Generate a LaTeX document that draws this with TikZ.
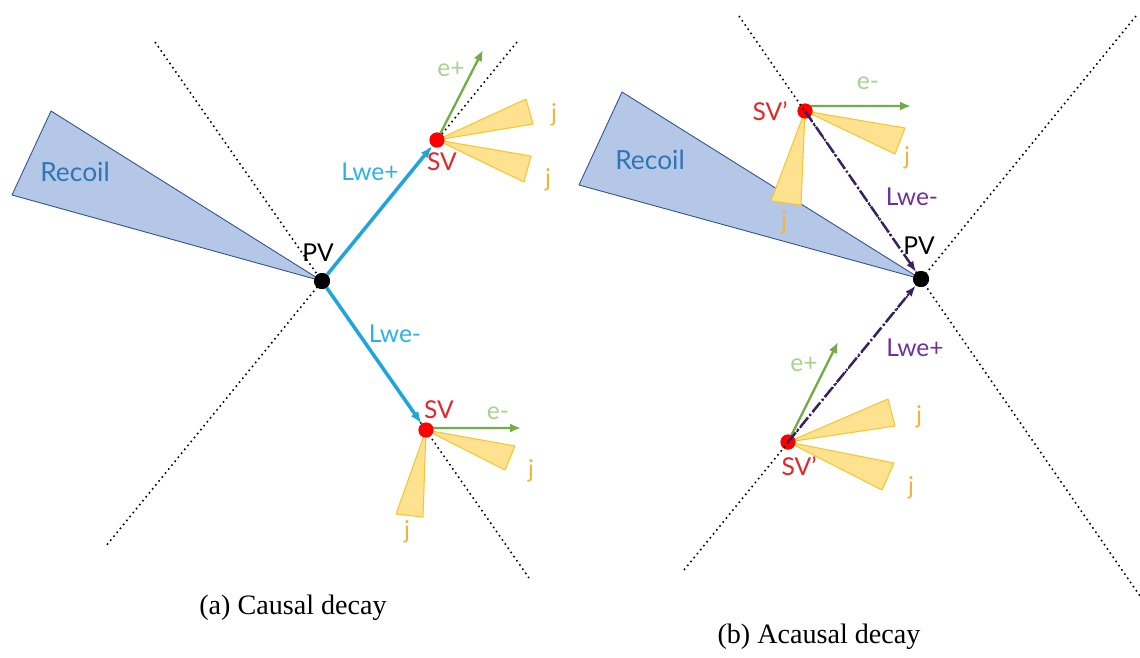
\documentclass[tikz,border=0pt]{standalone}
\usepackage{fontspec}
\setmainfont{Liberation Serif}
\setsansfont{Lato}
\usepackage{xcolor}
\usetikzlibrary{arrows.meta}
\definecolor{recoilfill}{HTML}{B4C7E7}
\definecolor{recoildraw}{HTML}{2F528F}
\definecolor{recoiltext}{HTML}{2E75B6}
\definecolor{lweblue}{HTML}{1DA5DC}
\definecolor{lwebluetext}{HTML}{2DB2E8}
\definecolor{lepgreen}{HTML}{70AD47}
\definecolor{lepgreentext}{HTML}{A9D18E}
\definecolor{jetfill}{HTML}{FFE28F}
\definecolor{jetdraw}{HTML}{F9C433}
\definecolor{jettext}{HTML}{F2B53A}
\definecolor{svred}{HTML}{FF0000}
\definecolor{svtext}{HTML}{E3262B}
\definecolor{lwepurple}{HTML}{3A1F66}
\definecolor{lwepurpletext}{HTML}{7030A0}

\begin{document}
\begin{tikzpicture}[
    x=0.02cm, y=-0.02cm,
    recoil/.style={fill=recoilfill, draw=recoildraw, line width=0.5pt, line join=round},
    jet/.style={fill=jetfill, draw=jetdraw, line width=0.6pt, line join=round},
    cone/.style={black, dotted, line width=0.9pt},
    pv/.style={circle, fill=black, inner sep=0pt, minimum size=0.32cm},
    sv/.style={circle, fill=svred, inner sep=0pt, minimum size=0.3cm},
    lwe/.style={-{Latex[length=2.4mm, width=1.8mm]}, lweblue, line width=2pt},
    lwebar/.style={-{Latex[length=2.2mm, width=1.6mm]}, lwepurple, line width=1.4pt,
        dash pattern=on 7pt off 1.5pt on 1pt off 1.5pt},
    lep/.style={-{Latex[length=2.2mm, width=1.8mm]}, lepgreen, line width=1.3pt},
    tag/.style={font=\sffamily\fontsize{14}{16}\selectfont, inner sep=1pt},
    caption/.style={font=\rmfamily\fontsize{16}{19}\selectfont}
]
\useasboundingbox (0,0) rectangle (1140,657);

% ---------------- (a) causal decay ----------------
\node[pv] (pv1) at (322,281) {};
\node[sv] (sv1) at (437,140) {};
\node[sv] (sv2) at (426,430) {};
\coordinate (cA1) at (155,42);
\coordinate (cA2) at (529,578);
\coordinate (cB1) at (517,42);
\coordinate (cB2) at (106,546);
\coordinate (rc1) at (51,111);
\coordinate (rc2) at (12,195);
\coordinate (ep1) at (483,50);
\coordinate (em1) at (521,428);

\filldraw[recoil] (pv1.center) -- (rc1) -- (rc2) -- cycle;
\draw[cone] (cA1) -- (cA2);
\draw[cone] (cB1) -- (cB2);

\filldraw[jet] (sv1.center) -- (526,99) -- (533,124) -- cycle;
\filldraw[jet] (sv1.center) -- (531,156) -- (524,182) -- cycle;
\filldraw[jet] (sv2.center) -- (515,446) -- (505,470) -- cycle;
\filldraw[jet] (sv2.center) -- (423,517) -- (396,514) -- cycle;

\draw[lep] ([yshift=0.04cm]sv2.center) -- (em1);
\draw[lep] (sv1.center) -- (ep1);
\draw[lwe] (pv1) -- (sv1);
\draw[lwe] (pv1) -- (sv2);
\node[pv] at (pv1) {};
\node[sv] at (sv1) {};
\node[sv] at (sv2) {};

\node[tag, text=recoiltext, font=\sffamily\fontsize{15}{17}\selectfont] (recoil1) at (75,172) {Recoil};
\node[tag, text=black] (pvtag1) at (318,253) {PV};
\node[tag, text=lwebluetext] (lwep1) at (370,172) {Lwe+};
\node[tag, text=lwebluetext] (lwem1) at (395,334) {Lwe-};
\node[tag, text=svtext] (svtag1) at (442,162) {SV};
\node[tag, text=svtext] (svtag2) at (439,410) {SV};
\node[tag, text=lepgreentext] (eptag1) at (451,69) {e+};
\node[tag, text=lepgreentext] (emtag1) at (498,413) {e-};
\node[tag, text=jettext] (jtag1) at (554,115) {j};
\node[tag, text=jettext] (jtag2) at (548,180) {j};
\node[tag, text=jettext] (jtag3) at (531,471) {j};
\node[tag, text=jettext] (jtag4) at (407,532) {j};

\node[caption] (capa) at (293,608) {(a) Causal decay};

% ---------------- (b) acausal decay ----------------
\node[pv] (pv2) at (921,279) {};
\node[sv] (sv3) at (805,111) {};
\node[sv] (sv4) at (788,442) {};
\coordinate (cC1) at (739,16);
\coordinate (cC2) at (1140,596);
\coordinate (cD1) at (1136,16);
\coordinate (cD2) at (684,570);
\coordinate (rc3) at (622,92);
\coordinate (rc4) at (579,185);
\coordinate (em2) at (911,106);
\coordinate (ep2) at (838,342);

\filldraw[recoil] (pv2.center) -- (rc3) -- (rc4) -- cycle;

\filldraw[jet] (sv3.center) -- (905,128) -- (895,154) -- cycle;
\filldraw[jet] (sv3.center) -- (801,205) -- (771,201) -- cycle;
\filldraw[jet] (sv4.center) -- (888,399) -- (895,426) -- cycle;
\filldraw[jet] (sv4.center) -- (894,463) -- (882,490) -- cycle;

\draw[lep] ([yshift=0.1cm]sv3.center) -- (em2);
\draw[lep] (sv4.center) -- (ep2);
\node[sv] at (sv3) {};
\node[sv] at (sv4) {};
\draw[cone] (cC1) -- (cC2);
\draw[cone] (cD1) -- (cD2);
\draw[lwebar] (sv3.center) -- (pv2);
\draw[lwebar] (sv4.center) -- (pv2);
\node[pv] at (pv2) {};

\node[tag, text=recoiltext, font=\sffamily\fontsize{15}{17}\selectfont] (recoil2) at (650,160) {Recoil};
\node[tag, text=black] (pvtag2) at (919,246) {PV};
\node[tag, text=lwepurpletext] (lwem2) at (912,197) {Lwe-};
\node[tag, text=lwepurpletext] (lwep2) at (915,348) {Lwe+};
\node[tag, text=svtext] (svtag3) at (770,111) {SV’};
\node[tag, text=svtext] (svtag4) at (799,466) {SV’};
\node[tag, text=lepgreentext] (emtag2) at (868,83) {e-};
\node[tag, text=lepgreentext] (eptag2) at (804,364) {e+};
\node[tag, text=jettext] (jtag5) at (907,158) {j};
\node[tag, text=jettext] (jtag6) at (784,223) {j};
\node[tag, text=jettext] (jtag7) at (919,417) {j};
\node[tag, text=jettext] (jtag8) at (911,488) {j};

\node[caption] (capb) at (819,637) {(b) Acausal decay};
\end{tikzpicture}
\end{document}
